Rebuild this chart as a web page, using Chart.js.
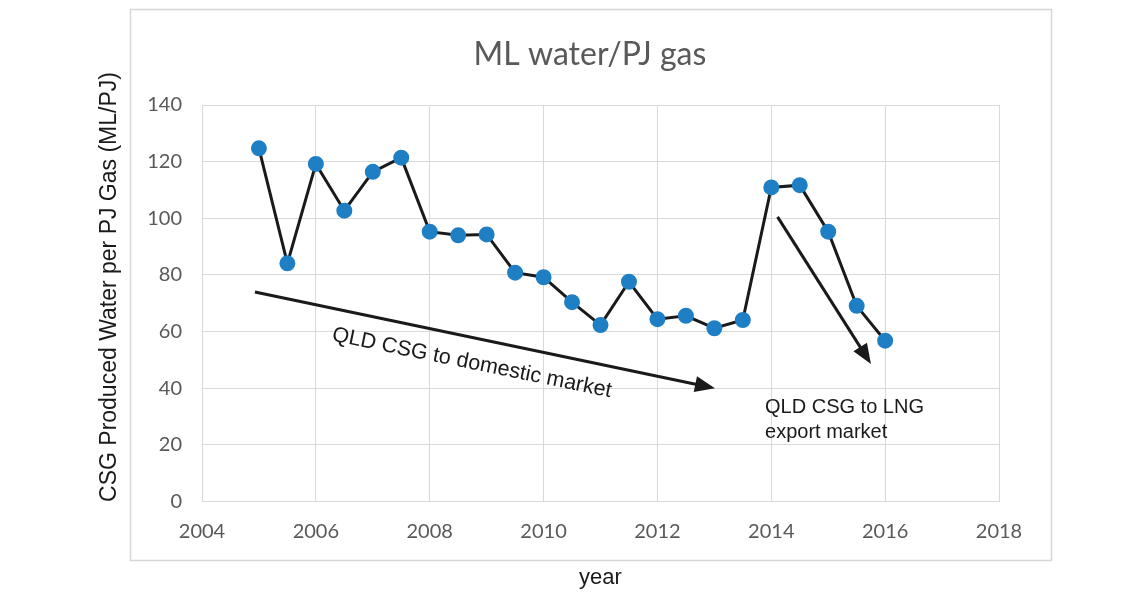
<!DOCTYPE html>
<html>
<head>
<meta charset="utf-8">
<script src="https://cdn.jsdelivr.net/npm/chart.js@4"></script>
<style>
  html, body { margin: 0; padding: 0; background: #fff; }
  #wrap { width: 1140px; height: 596px; position: relative; }
</style>
</head>
<body>
<div id="wrap"><canvas id="canv"></canvas></div>
<script>
const years = [2005, 2005.5, 2006, 2006.5, 2007, 2007.5, 2008, 2008.5, 2009, 2009.5, 2010, 2010.5,
               2011, 2011.5, 2012, 2012.5, 2013, 2013.5, 2014, 2014.5, 2015, 2015.5, 2016];
const waterPerGas = [124.7, 84.1, 119.2, 102.7, 116.4, 121.4, 95.3, 94.0, 94.3, 80.8, 79.2, 70.4,
                     62.3, 77.6, 64.4, 65.6, 61.2, 64.1, 110.9, 111.7, 95.3, 69.1, 56.8];
const xTicks = [2004, 2006, 2008, 2010, 2012, 2014, 2016, 2018];
const yTicks = [0, 20, 40, 60, 80, 100, 120, 140];

const chartTitle = 'ML water/PJ gas';
const yTitle = 'CSG Produced Water per PJ Gas (ML/PJ)';
const xTitle = 'year';
const note1 = 'QLD CSG to domestic market';
const note2 = ['QLD CSG to LNG', 'export market'];

const tickFont = { family: 'Lato', size: 20 };
const gridCol = '#d9d9d9';

// frame, titles and the two arrows with their notes
const extras = {
  id: 'extras',
  beforeDraw(chart) {
    const c = chart.ctx;
    c.save();
    c.strokeStyle = '#d6d6d6';
    c.lineWidth = 1.5;
    c.strokeRect(130.5, 9.5, 921, 551);
    c.fillStyle = '#595959';
    c.font = '32px Lato, sans-serif';
    c.textAlign = 'center';
    c.textBaseline = 'middle';
    c.fillText(chartTitle, 590, 55);
    c.restore();
  },
  afterDatasetsDraw(chart) {
    const c = chart.ctx;
    const sx = chart.scales.x, sy = chart.scales.y;
    const px = v => sx.getPixelForValue(v);
    const py = v => sy.getPixelForValue(v);

    c.save();
    c.fillStyle = '#1a1a1a';
    c.font = '23px "Liberation Sans", Arial, sans-serif';
    c.textAlign = 'center';
    c.textBaseline = 'middle';
    c.translate(110, 287);
    c.rotate(-Math.PI / 2);
    c.fillText(yTitle, 0, 0);
    c.restore();

    const arrow = (x0, y0, x1, y1) => {
      const a = Math.atan2(y1 - y0, x1 - x0);
      const len = 20, half = 8;
      c.save();
      c.strokeStyle = '#1a1a1a';
      c.fillStyle = '#1a1a1a';
      c.lineWidth = 3;
      c.beginPath();
      c.moveTo(x0, y0);
      c.lineTo(x1 - Math.cos(a) * len * 0.8, y1 - Math.sin(a) * len * 0.8);
      c.stroke();
      c.beginPath();
      c.moveTo(x1, y1);
      c.lineTo(x1 - Math.cos(a) * len - Math.sin(a) * half, y1 - Math.sin(a) * len + Math.cos(a) * half);
      c.lineTo(x1 - Math.cos(a) * len + Math.sin(a) * half, y1 - Math.sin(a) * len - Math.cos(a) * half);
      c.closePath();
      c.fill();
      c.restore();
    };
    arrow(px(2004.93), py(74.0), px(2013.01), py(40.0));
    arrow(px(2014.11), py(100.5), px(2015.75), py(48.6));

    c.save();
    c.fillStyle = '#1a1a1a';
    c.font = '21.5px "Liberation Sans", Arial, sans-serif';
    c.textAlign = 'center';
    c.textBaseline = 'middle';
    c.translate(px(2008.74), py(48.9));
    c.rotate(11.5 * Math.PI / 180);
    c.fillText(note1, 0, 0);
    c.restore();

    c.save();
    c.fillStyle = '#1a1a1a';
    c.font = '20px "Liberation Sans", Arial, sans-serif';
    c.textAlign = 'left';
    c.textBaseline = 'alphabetic';
    c.fillText(note2[0], px(2013.89), py(31.3));
    c.fillText(note2[1], px(2013.89), py(22.5));
    c.restore();
  }
};

const ctx = document.getElementById('canv').getContext('2d');
new Chart(ctx, {
  type: 'line',
  data: {
    datasets: [{
      data: years.map((y, i) => ({ x: y, y: waterPerGas[i] })),
      borderColor: '#1a1a1a',
      borderWidth: 3,
      pointBackgroundColor: '#1f7fc4',
      pointBorderColor: '#1f7fc4',
      pointRadius: 6.5,
      tension: 0
    }]
  },
  options: {
    responsive: true,
    maintainAspectRatio: false,
    animation: false,
    layout: { padding: { left: 130, right: 141, top: 105, bottom: 0 } },
    plugins: {
      legend: { display: false },
      tooltip: { enabled: false },
      title: { display: false }
    },
    scales: {
      x: {
        type: 'linear',
        min: 2004,
        max: 2018,
        afterBuildTicks: s => { s.ticks = xTicks.map(v => ({ value: v })); },
        ticks: { color: '#595959', font: tickFont, padding: 18, maxRotation: 0, callback: v => String(v) },
        grid: { color: gridCol, lineWidth: 1, drawTicks: false },
        border: { color: gridCol },
        title: {
          display: true,
          text: xTitle,
          color: '#1a1a1a',
          font: { family: 'Liberation Sans', size: 22 },
          padding: { top: 3, bottom: 5 }
        }
      },
      y: {
        min: 0,
        max: 140,
        afterBuildTicks: s => { s.ticks = yTicks.map(v => ({ value: v })); },
        afterFit: s => { s.width = 72; },
        ticks: { color: '#595959', font: tickFont, padding: 20 },
        grid: { color: gridCol, lineWidth: 1, drawTicks: false },
        border: { color: gridCol }
      }
    }
  },
  plugins: [extras]
});
</script>
</body>
</html>
